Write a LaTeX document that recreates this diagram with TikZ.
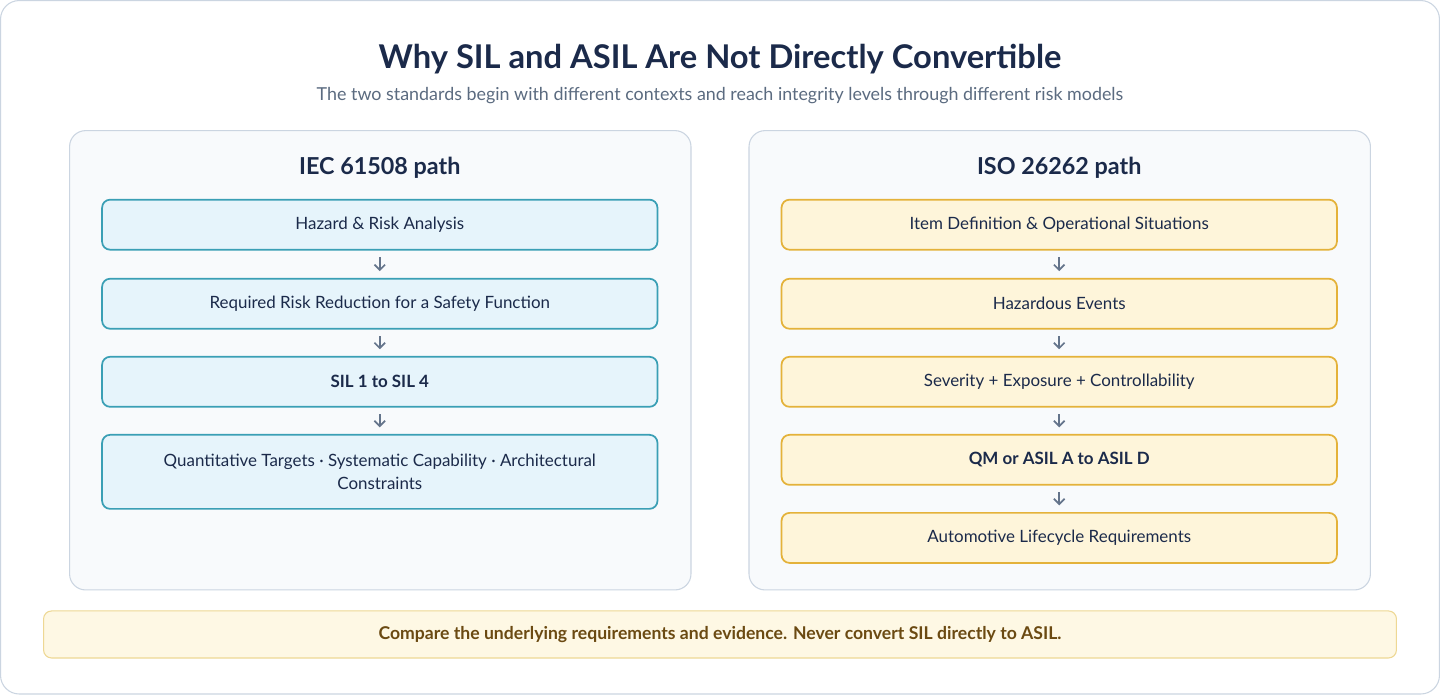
\documentclass[tikz,border=0pt]{standalone}
\usepackage{fontspec}
\setmainfont{Lato}
\usetikzlibrary{positioning,arrows.meta}
\definecolor{navy}{HTML}{1B2A4A}
\definecolor{subgray}{HTML}{5B6B80}
\definecolor{panelfill}{HTML}{F8FAFC}
\definecolor{paneldraw}{HTML}{CBD5E1}
\definecolor{bluefill}{HTML}{E6F4FB}
\definecolor{bluedraw}{HTML}{3A9FB5}
\definecolor{amberfill}{HTML}{FEF5DA}
\definecolor{amberdraw}{HTML}{E4B23A}
\definecolor{notefill}{HTML}{FEF8E4}
\definecolor{notedraw}{HTML}{EED894}
\definecolor{notetext}{HTML}{6B4A12}
\definecolor{arrowgray}{HTML}{64748B}
\begin{document}
\begin{tikzpicture}[x=0.75pt,y=-0.75pt,
    panel/.style={draw=paneldraw,fill=panelfill,rounded corners=12pt,line width=0.8pt},
    iecbox/.style={draw=bluedraw,fill=bluefill,rounded corners=6pt,line width=1.3pt,
      minimum width=555*0.75pt,minimum height=50*0.75pt,align=center,
      font=\fontsize{12.7}{17}\selectfont,text=navy},
    isobox/.style={iecbox,draw=amberdraw,fill=amberfill},
    flow/.style={-{Straight Barb[length=4pt,width=8pt]},draw=arrowgray,line width=1.3pt,shorten <=5pt,shorten >=5pt},
    heading/.style={font=\fontsize{17.5}{20}\selectfont\bfseries,text=navy}]

  % background
  \draw[paneldraw,fill=white,rounded corners=14pt,line width=0.8pt] (1,1) rectangle (1439,694);
  \node[font=\fontsize{24.5}{28}\selectfont\bfseries,text=navy] (title) at (720,60)
    {Why SIL and ASIL Are Not Directly Convertible};
  \node[font=\fontsize{13.4}{16}\selectfont,text=subgray] (subtitle) at (720,96)
    {The two standards begin with different contexts and reach integrity levels through different risk models};

  % panels
  \draw[panel] (70,131) rectangle (691,590);
  \draw[panel] (749,131) rectangle (1370,590);
  \node[heading] (iec) at (380,168) {IEC 61508 path};
  \node[heading] (iso) at (1059,168) {ISO 26262 path};

  % IEC 61508 steps
  \node[iecbox] (i-1) at (380,225) {Hazard \& Risk Analysis};
  \node[iecbox] (i-2) at (380,304) {Required Risk Reduction for a Safety Function};
  \node[iecbox,font=\fontsize{12.7}{17}\selectfont\bfseries] (i-3) at (380,382) {SIL 1 to SIL 4};
  \node[iecbox,minimum height=74*0.75pt] (i-4) at (380,472)
    {Quantitative Targets · Systematic Capability · Architectural\\Constraints};
  \foreach \a/\b in {1/2,2/3,3/4}
    \draw[flow] (i-\a) -- (i-\b);

  % ISO 26262 steps
  \node[isobox] (s-1) at (1059,225) {Item Definition \& Operational Situations};
  \node[isobox] (s-2) at (1059,304) {Hazardous Events};
  \node[isobox] (s-3) at (1059,382) {Severity + Exposure + Controllability};
  \node[isobox,font=\fontsize{12.7}{17}\selectfont\bfseries] (s-4) at (1059,460) {QM or ASIL A to ASIL D};
  \node[isobox] (s-5) at (1059,538) {Automotive Lifecycle Requirements};
  \foreach \a/\b in {1/2,2/3,3/4,4/5}
    \draw[flow] (s-\a) -- (s-\b);

  % note
  \node[draw=notedraw,fill=notefill,rounded corners=6pt,line width=0.8pt,
    minimum width=1352*0.75pt,minimum height=47*0.75pt,text=notetext,
    font=\fontsize{13.2}{15}\selectfont\bfseries] (note) at (720,634.5)
    {Compare the underlying requirements and evidence. Never convert SIL directly to ASIL.};
\end{tikzpicture}
\end{document}
